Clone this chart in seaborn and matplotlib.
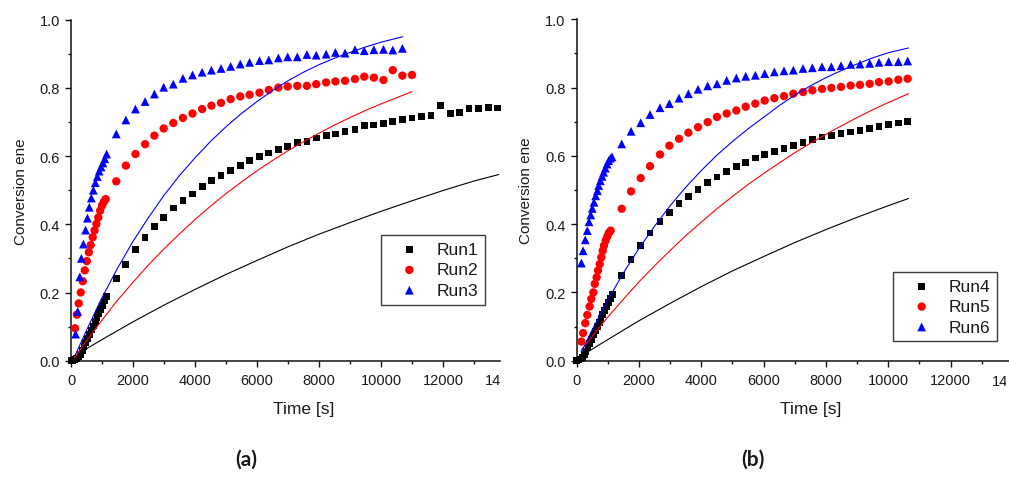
import matplotlib
matplotlib.use("Agg")
import matplotlib.pyplot as plt
import matplotlib.transforms as mtransforms
from matplotlib.ticker import MultipleLocator, FormatStrFormatter
import seaborn as sns

sns.set_style("ticks")
plt.rcParams["font.family"] = ["Liberation Sans", "DejaVu Sans"]

# ---------------- Panel (a): runs 1-3 ----------------
run1_time = [0, 60, 120, 180, 240, 300, 360, 420, 480, 540, 600, 660, 720, 780, 840, 900, 960, 1020, 1080, 1140,
             1460, 1770, 2080, 2390, 2690, 2990, 3300, 3610, 3920, 4230, 4530, 4840, 5150, 5460, 5760, 6080,
             6380, 6690, 6990, 7300, 7610, 7910, 8230, 8530, 8840, 9160, 9460, 9770, 10080, 10380, 10690,
             11000, 11310, 11610, 11920, 12230, 12540, 12840, 13150, 13460, 13770]
run1_conv = [0.000, 0.001, 0.003, 0.006, 0.011, 0.019, 0.030, 0.042, 0.054, 0.066, 0.078, 0.090, 0.102, 0.114,
             0.126, 0.138, 0.150, 0.162, 0.175, 0.188,
             0.241, 0.283, 0.327, 0.362, 0.394, 0.420, 0.448, 0.469, 0.489, 0.512, 0.528, 0.544, 0.558, 0.572,
             0.587, 0.598, 0.609, 0.620, 0.628, 0.640, 0.643, 0.653, 0.660, 0.665, 0.673, 0.679, 0.690, 0.691,
             0.696, 0.701, 0.707, 0.712, 0.717, 0.718, 0.749, 0.726, 0.728, 0.740, 0.740, 0.743, 0.741]

run2_time = [130, 190, 250, 315, 380, 445, 510, 575, 635, 700, 760, 820, 880, 940, 1000, 1060, 1120,
             1460, 1770, 2080, 2390, 2690, 2990, 3300, 3610, 3920, 4230, 4530, 4840, 5150, 5460, 5760, 6080,
             6380, 6690, 6990, 7300, 7610, 7910, 8230, 8530, 8840, 9160, 9460, 9770, 10080, 10380, 10690, 11000]
run2_conv = [0.095, 0.135, 0.168, 0.200, 0.233, 0.265, 0.292, 0.318, 0.339, 0.362, 0.382, 0.401, 0.420, 0.440,
             0.455, 0.466, 0.474,
             0.526, 0.572, 0.606, 0.635, 0.660, 0.681, 0.697, 0.712, 0.725, 0.738, 0.748, 0.756, 0.767, 0.775,
             0.780, 0.786, 0.794, 0.801, 0.804, 0.806, 0.806, 0.811, 0.816, 0.819, 0.821, 0.826, 0.833, 0.830,
             0.823, 0.852, 0.836, 0.838]

run3_time = [150, 215, 285, 335, 400, 470, 530, 590, 655, 720, 785, 850, 910, 970, 1030, 1090, 1150,
             1460, 1770, 2080, 2390, 2690, 2990, 3300, 3610, 3920, 4230, 4530, 4840, 5150, 5460, 5760, 6080,
             6380, 6690, 6990, 7300, 7610, 7910, 8230, 8530, 8840, 9160, 9460, 9770, 10080, 10380, 10690]
run3_conv = [0.078, 0.144, 0.246, 0.300, 0.342, 0.383, 0.418, 0.450, 0.477, 0.500, 0.522, 0.540, 0.556, 0.568,
             0.580, 0.592, 0.606,
             0.665, 0.706, 0.738, 0.760, 0.782, 0.802, 0.811, 0.828, 0.838, 0.846, 0.852, 0.857, 0.863, 0.870,
             0.875, 0.880, 0.882, 0.888, 0.891, 0.891, 0.898, 0.896, 0.899, 0.904, 0.902, 0.912, 0.909, 0.912,
             0.913, 0.911, 0.916]

# model curves, panel (a)
fit1_time = [75, 500, 1000, 2000, 3000, 4000, 5000, 6000, 7000, 8000, 9000, 10000, 11000, 12000, 13000, 13800]
fit1_conv = [0.011, 0.035, 0.062, 0.114, 0.163, 0.209, 0.253, 0.294, 0.334, 0.371, 0.405, 0.438, 0.469, 0.499,
             0.527, 0.546]
fit2_time = [100, 500, 1000, 1500, 2000, 2500, 3000, 3500, 4000, 4500, 5000, 5500, 6000, 6500, 7000, 7500,
             8000, 8500, 9000, 9500, 10000, 10500, 11000]
fit2_conv = [0.008, 0.058, 0.119, 0.177, 0.230, 0.281, 0.328, 0.372, 0.414, 0.453, 0.490, 0.524, 0.557, 0.587,
             0.616, 0.642, 0.667, 0.691, 0.713, 0.734, 0.753, 0.771, 0.789]
fit3_time = [130, 500, 1000, 1500, 2000, 2500, 3000, 3500, 4000, 4500, 5000, 5500, 6000, 6500, 7000, 7500,
             8000, 8500, 9000, 9500, 10000, 10700]
fit3_conv = [0.015, 0.089, 0.185, 0.271, 0.350, 0.420, 0.485, 0.543, 0.595, 0.643, 0.686, 0.725, 0.760, 0.792,
             0.821, 0.846, 0.868, 0.887, 0.904, 0.920, 0.934, 0.950]

# ---------------- Panel (b): runs 4-6 ----------------
late_b_time = [1445, 1745, 2055, 2355, 2675, 2975, 3285, 3585, 3895, 4205, 4505, 4815, 5125, 5425, 5735, 6035,
               6345, 6655, 6955, 7265, 7565, 7875, 8175, 8485, 8795, 9095, 9405, 9705, 10015, 10325, 10625]

run4_time = [0, 60, 120, 180, 240, 300, 360, 420, 480, 540, 600, 660, 720, 780, 840, 900, 960, 1020, 1080,
             1140] + late_b_time
run4_conv = [0.000, 0.002, 0.005, 0.009, 0.017, 0.027, 0.039, 0.051, 0.063, 0.075, 0.087, 0.099, 0.111, 0.123,
             0.135, 0.147, 0.159, 0.171, 0.183, 0.195,
             0.249, 0.296, 0.337, 0.374, 0.407, 0.435, 0.461, 0.482, 0.501, 0.521, 0.538, 0.555, 0.568, 0.580,
             0.594, 0.604, 0.613, 0.621, 0.631, 0.638, 0.647, 0.655, 0.660, 0.665, 0.670, 0.674, 0.679, 0.687,
             0.691, 0.696, 0.701]

run5_time = [150, 205, 275, 340, 415, 470, 535, 580, 640, 685, 740, 790, 835, 875, 930, 985, 1030,
             1090] + late_b_time
run5_conv = [0.056, 0.081, 0.110, 0.134, 0.159, 0.181, 0.200, 0.225, 0.244, 0.264, 0.283, 0.303, 0.322, 0.337,
             0.352, 0.364, 0.374, 0.381,
             0.445, 0.496, 0.535, 0.570, 0.604, 0.630, 0.650, 0.668, 0.684, 0.699, 0.714, 0.724, 0.733, 0.744,
             0.753, 0.762, 0.769, 0.775, 0.782, 0.787, 0.792, 0.796, 0.799, 0.802, 0.806, 0.808, 0.811, 0.816,
             0.818, 0.823, 0.826]

run6_time = [150, 205, 275, 340, 395, 450, 500, 555, 610, 665, 705, 760, 815, 865, 920, 975, 1025, 1080,
             1135] + late_b_time
run6_conv = [0.286, 0.322, 0.354, 0.381, 0.407, 0.427, 0.446, 0.464, 0.483, 0.498, 0.513, 0.527, 0.540, 0.552,
             0.564, 0.576, 0.586, 0.593, 0.597,
             0.635, 0.672, 0.697, 0.721, 0.741, 0.753, 0.769, 0.782, 0.795, 0.805, 0.811, 0.821, 0.828, 0.833,
             0.836, 0.841, 0.846, 0.849, 0.851, 0.856, 0.858, 0.861, 0.861, 0.864, 0.868, 0.869, 0.871, 0.874,
             0.876, 0.876, 0.878]

# model curves, panel (b)
fit4_time = [160, 500, 1000, 2000, 3000, 4000, 5000, 6000, 7000, 8000, 9000, 10000, 10650]
fit4_conv = [0.014, 0.034, 0.062, 0.117, 0.168, 0.217, 0.263, 0.305, 0.346, 0.384, 0.420, 0.454, 0.475]
fit5_time = [140, 500, 1000, 1500, 2000, 2500, 3000, 3500, 4000, 4500, 5000, 5500, 6000, 6500, 7000, 7500,
             8000, 8500, 9000, 9500, 10000, 10650]
fit5_conv = [0.030, 0.072, 0.128, 0.180, 0.231, 0.278, 0.323, 0.366, 0.406, 0.445, 0.481, 0.516, 0.548, 0.579,
             0.609, 0.637, 0.663, 0.688, 0.712, 0.735, 0.756, 0.782]
fit6_time = [150, 500, 1000, 1500, 2000, 2500, 3000, 3500, 4000, 4500, 5000, 5500, 6000, 6500, 7000, 7500,
             8000, 8500, 9000, 9500, 10000, 10650]
fit6_conv = [0.026, 0.091, 0.178, 0.257, 0.329, 0.394, 0.454, 0.508, 0.557, 0.602, 0.642, 0.679, 0.713, 0.747,
             0.778, 0.805, 0.829, 0.850, 0.869, 0.887, 0.902, 0.916]

labels_a = ["Run1", "Run2", "Run3"]
labels_b = ["Run4", "Run5", "Run6"]
panel_tags = ["(a)", "(b)"]

# ---------------- styling ----------------
colors = ["#000000", "#ff0000", "#0000ff"]
markers = ["s", "o", "^"]
marker_area = [24, 36, 40]
text_color = "#1a1a1a"

W, H = 1009, 481
fig = plt.figure(figsize=(W / 100, H / 100), dpi=100)
fig.patch.set_facecolor("white")

ax_a = fig.add_axes([71 / W, 1 - 361.7 / H, 429 / W, 341 / H])
ax_b = fig.add_axes([576.7 / W, 1 - 361.7 / H, 432.3 / W, 341.4 / H])


def draw_panel(ax, runs, fits, labels, tag, xmax, legend_xy, tag_x, xlabel_x, clip_right):
    handles = []
    for (t, c), (ft, fc), col, mk, area in zip(runs, fits, colors, markers, marker_area):
        sns.scatterplot(x=t, y=c, marker=mk, s=area, color=col, linewidth=0, edgecolor="none",
                        ax=ax, clip_on=False, zorder=3, legend=False)
        handles.append(ax.collections[-1])
        sns.lineplot(x=ft, y=fc, color=col, linewidth=0.8, ax=ax, legend=False, zorder=4)

    ax.set_xlim(0, xmax)
    ax.set_ylim(0, 1.0)
    ax.xaxis.set_major_locator(MultipleLocator(2000))
    ax.xaxis.set_minor_locator(MultipleLocator(1000))
    ax.yaxis.set_major_locator(MultipleLocator(0.2))
    ax.yaxis.set_minor_locator(MultipleLocator(0.1))
    ax.yaxis.set_major_formatter(FormatStrFormatter("%.1f"))
    ax.xaxis.set_major_formatter(FormatStrFormatter("%d"))
    ax.tick_params(which="major", direction="out", length=4.3, width=1.0, labelsize=10.5,
                   colors="#111111", labelcolor=text_color)
    ax.tick_params(axis="x", which="major", pad=4.9)
    ax.tick_params(axis="y", which="major", pad=3.6)
    ax.tick_params(which="minor", direction="out", length=2.4, width=1.0, colors="#111111")
    for side in ("top", "right"):
        ax.spines[side].set_visible(False)
    for side in ("left", "bottom"):
        ax.spines[side].set_linewidth(1.1)
        ax.spines[side].set_color("#111111")
    ax.set_facecolor("white")

    # the 14000 label lies past the shown range and is cut by the panel border
    lab = ax.text(14000, -0.0375, "14000",
                  transform=mtransforms.blended_transform_factory(ax.transData, ax.transAxes),
                  ha="center", va="top", fontsize=10.5, color=text_color)
    lab.set_clip_box(mtransforms.TransformedBbox(
        mtransforms.Bbox.from_extents(0, 0, clip_right / 100, H / 100), fig.dpi_scale_trans))
    lab.set_clip_on(True)

    ax.set_xlabel("Time [s]", fontsize=12.5, color=text_color)
    ax.set_ylabel("Conversion ene", fontsize=11, color=text_color)
    ax.xaxis.set_label_coords(xlabel_x, -0.118)
    ax.yaxis.set_label_coords(-0.100, 0.5)

    leg = ax.legend(handles, labels, loc="upper left", bbox_to_anchor=legend_xy,
                    bbox_transform=fig.transFigure, borderaxespad=0, frameon=True, fancybox=False,
                    fontsize=12.5, handlelength=2.5, handletextpad=0.3, borderpad=0.4,
                    labelspacing=0.3, scatterpoints=1)
    frame = leg.get_frame()
    frame.set_edgecolor("#3c3c3c")
    frame.set_linewidth(1.0)
    frame.set_alpha(1.0)
    for txt in leg.get_texts():
        txt.set_color(text_color)

    fig.text(tag_x / W, 1 - 460 / H, tag, ha="center", va="center", fontsize=15,
             fontweight="bold", family=["Lato", "DejaVu Sans"], color=text_color)


draw_panel(ax_a,
           [(run1_time, run1_conv), (run2_time, run2_conv), (run3_time, run3_conv)],
           [(fit1_time, fit1_conv), (fit2_time, fit2_conv), (fit3_time, fit3_conv)],
           labels_a, panel_tags[0], 429 / 0.031, (380.7 / W, 1 - 236 / H), 246, 0.543, 500)
draw_panel(ax_b,
           [(run4_time, run4_conv), (run5_time, run5_conv), (run6_time, run6_conv)],
           [(fit4_time, fit4_conv), (fit5_time, fit5_conv), (fit6_time, fit6_conv)],
           labels_b, panel_tags[1], 432.3 / 0.03115, (893 / W, 1 - 272.7 / H), 753, 0.5415, 1006)

fig.savefig("out.png", dpi=100, facecolor="white")
